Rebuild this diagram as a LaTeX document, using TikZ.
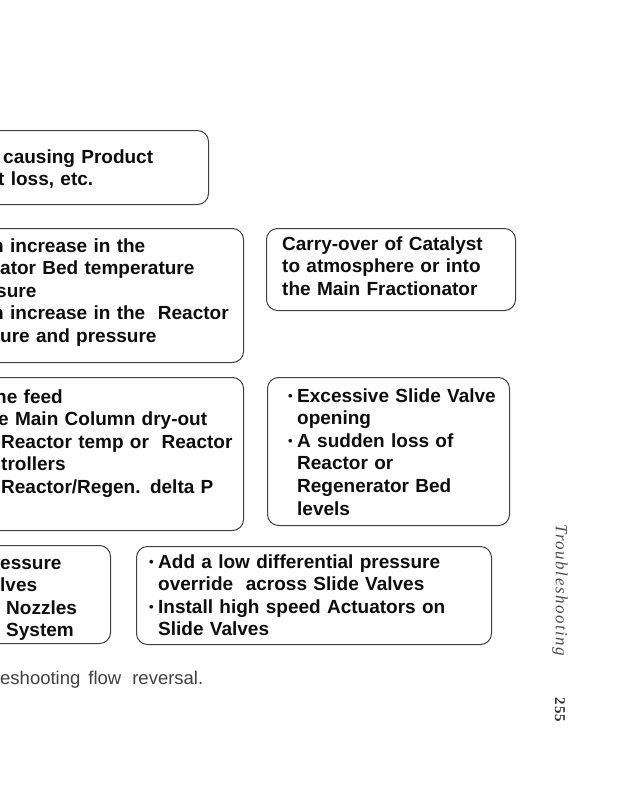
\documentclass[tikz,border=0pt]{standalone}
\usepackage{fontspec}
\setmainfont{Liberation Sans}
\newfontfamily\sidefont[LetterSpace=9]{Liberation Serif}

\newcommand\boxfont{\fontsize{19}{22.6}\selectfont\bfseries}
\newcommand\bul{\makebox[9pt][l]{\raisebox{1.5pt}{\fontsize{13}{13}\selectfont\textbullet}}}
\newcommand\ind{\hspace*{9pt}}

\begin{document}
\begin{tikzpicture}[x=1pt, y=-1pt,
    pagebox/.style={draw=black!75, line width=1pt, rounded corners=11pt, inner sep=0pt, anchor=north west},
    boxtext/.style={anchor=base west, inner sep=0pt, text width=300pt, align=left, font=\boxfont, text=black!95}
]
\useasboundingbox (0,0) rectangle (636,800);
\clip (0,0) rectangle (636,800);

% boxes, the left ones run off the page
\node[pagebox, minimum width=248pt, minimum height=74pt](lossbox) at (-40,130) {};
\node[pagebox, minimum width=283pt, minimum height=134pt](risebox) at (-40,228) {};
\node[pagebox, minimum width=249pt, minimum height=82pt](carrybox) at (266,228) {};
\node[pagebox, minimum width=283pt, minimum height=153pt](feedbox) at (-40,377) {};
\node[pagebox, minimum width=242pt, minimum height=148pt](slidebox) at (267,377) {};
\node[pagebox, minimum width=150pt, minimum height=98pt](nozzlebox) at (-40,545) {};
\node[pagebox, minimum width=355pt, minimum height=98pt](actionbox) at (136,546) {};

% box texts
\node[boxtext](losstext) at (0,163) {\hspace*{3pt}causing Product\\\hspace*{-2pt}t loss, etc.};
\node[boxtext](risetext) at (0,252) {\hspace*{-8pt}n increase in the\\ator Bed temperature\\\hspace*{-4pt}sure\\\hspace*{-8pt}n increase in the\ \ Reactor\\ure and pressure};
\node[boxtext](carrytext) at (282,250) {Carry-over of Catalyst\\to atmosphere or into\\the Main Fractionator};
\node[boxtext](feedtext) at (0,403) {\hspace*{-5pt}he feed\\\hspace*{-2pt}e Main Column dry-out\\\hspace*{1pt}Reactor temp or\ \ Reactor\\\hspace*{1pt}trollers\\\hspace*{1pt}Reactor/Regen. delta P};
\node[boxtext](slidetext) at (288,402) {\bul Excessive Slide Valve\\\ind opening\\\bul A sudden loss of\\\ind Reactor or\\\ind Regenerator Bed\\\ind levels};
\node[boxtext](nozzletext) at (0,569) {essure\\lves\\\hspace*{6pt}Nozzles\\\hspace*{6pt}System};
\node[boxtext](actiontext) at (149,568) {\bul Add a low differential pressure\\\ind override\ \ across Slide Valves\\\bul Install high speed Actuators on\\\ind Slide Valves};

% caption and running head
\node[anchor=base west, inner sep=0pt, font=\fontsize{18.5}{20}\selectfont, text=black!75](caption) at (0,684) {eshooting\hspace{8pt}flow\hspace{11pt}reversal.};
\node[anchor=west, inner sep=0pt, rotate=-90, font=\sidefont\itshape\fontsize{17}{17}\selectfont, text=black!70](runhead) at (560,524) {Troubleshooting};
\node[anchor=west, inner sep=0pt, rotate=-90, font=\sidefont\bfseries\fontsize{15}{15}\selectfont, text=black!80](pagenum) at (560,697) {255};
\end{tikzpicture}
\end{document}
